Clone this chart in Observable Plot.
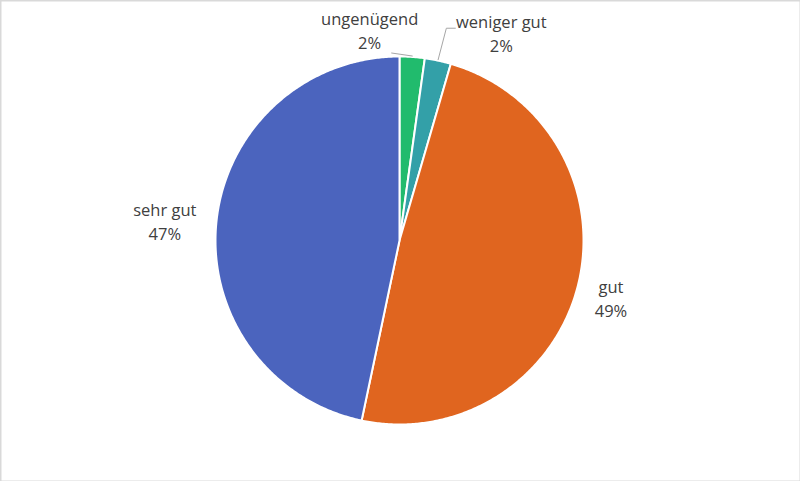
<!DOCTYPE html>
<html><head><meta charset="utf-8">
<script src="https://cdn.jsdelivr.net/npm/d3@7"></script>
<script src="https://cdn.jsdelivr.net/npm/@observablehq/plot@0.6"></script>
<style>body{margin:0;background:#fff;} svg{display:block;}</style>
</head><body><div id="chart"></div>
<script>
const categories = ["ungenügend", "weniger gut", "gut", "sehr gut"];
const values = [2.2, 2.3, 48.8, 46.7];
const labels = ["2%", "2%", "49%", "47%"];
const colors = ["#21bb6d", "#33a0a8", "#e0651f", "#4b64be"];

const W = 800, H = 481, cx = 399, cy = 240, R = 184;
// label layout (Excel best-fit style): angular nudge (deg) and radial distance (in radii)
const labelNudge = [-12, 14, 1, -1];
const labelDist = [1.16, 1.26, 1.19, 1.28];
const leader = [true, true, false, false];

const total = d3.sum(values);
const slices = [];
const points = [];
let acc = 0;
categories.forEach((c, i) => {
  const a0 = acc / total * 360, a1 = (acc + values[i]) / total * 360;
  acc += values[i];
  const mid = (a0 + a1) / 2;
  slices.push({c, a0, a1, mid, i});
  points.push({c, x: 0, y: 0});
  const n = Math.max(4, Math.ceil((a1 - a0) / 0.5));
  for (let k = 0; k <= n; k++) {
    const a = (a0 + (a1 - a0) * k / n) * Math.PI / 180;
    points.push({c, x: Math.sin(a), y: Math.cos(a)});
  }
});
const pol = (deg, r) => ({x: r * Math.sin(deg * Math.PI / 180), y: r * Math.cos(deg * Math.PI / 180)});
const textData = slices.map(s => {
  const p = pol(s.mid + labelNudge[s.i], labelDist[s.i]);
  return {...p, t: categories[s.i] + "\n" + labels[s.i]};
});
const leaders = [];
slices.forEach(s => {
  if (!leader[s.i]) return;
  const e = pol(s.mid, 1.005);
  const lp = pol(s.mid + labelNudge[s.i], labelDist[s.i]);
  if (s.i === 0) {
    leaders.push({g: s.i, x: e.x, y: e.y});
    leaders.push({g: s.i, x: lp.x + 22 / R, y: e.y + 3 / R});
  } else {
    leaders.push({g: s.i, x: e.x, y: e.y});
    leaders.push({g: s.i, x: lp.x - 55 / R, y: lp.y + 4 / R});
    leaders.push({g: s.i, x: lp.x - 46 / R, y: lp.y + 4 / R});
  }
});

const chart = Plot.plot({
  width: W, height: H,
  margin: 0,
  x: {domain: [-cx / R, (W - cx) / R], axis: null},
  y: {domain: [-(H - cy) / R, cy / R], axis: null},
  color: {domain: categories, range: colors},
  style: {fontFamily: "'Open Sans', sans-serif", background: "#fff"},
  marks: [
    Plot.line(points, {x: "x", y: "y", z: "c", fill: "c", stroke: "#fff", strokeWidth: 2, curve: "linear-closed"}),
    Plot.line(leaders, {x: "x", y: "y", z: "g", stroke: "#a6a6a6", strokeWidth: 1}),
    Plot.text(textData, {x: "x", y: "y", text: "t", fill: "#404040", fontSize: 16.5, lineHeight: 1.45, textAnchor: "middle"}),
    Plot.frame({stroke: "#d9d9d9", strokeWidth: 2})
  ]
});
document.getElementById("chart").appendChild(chart);
</script></body></html>
